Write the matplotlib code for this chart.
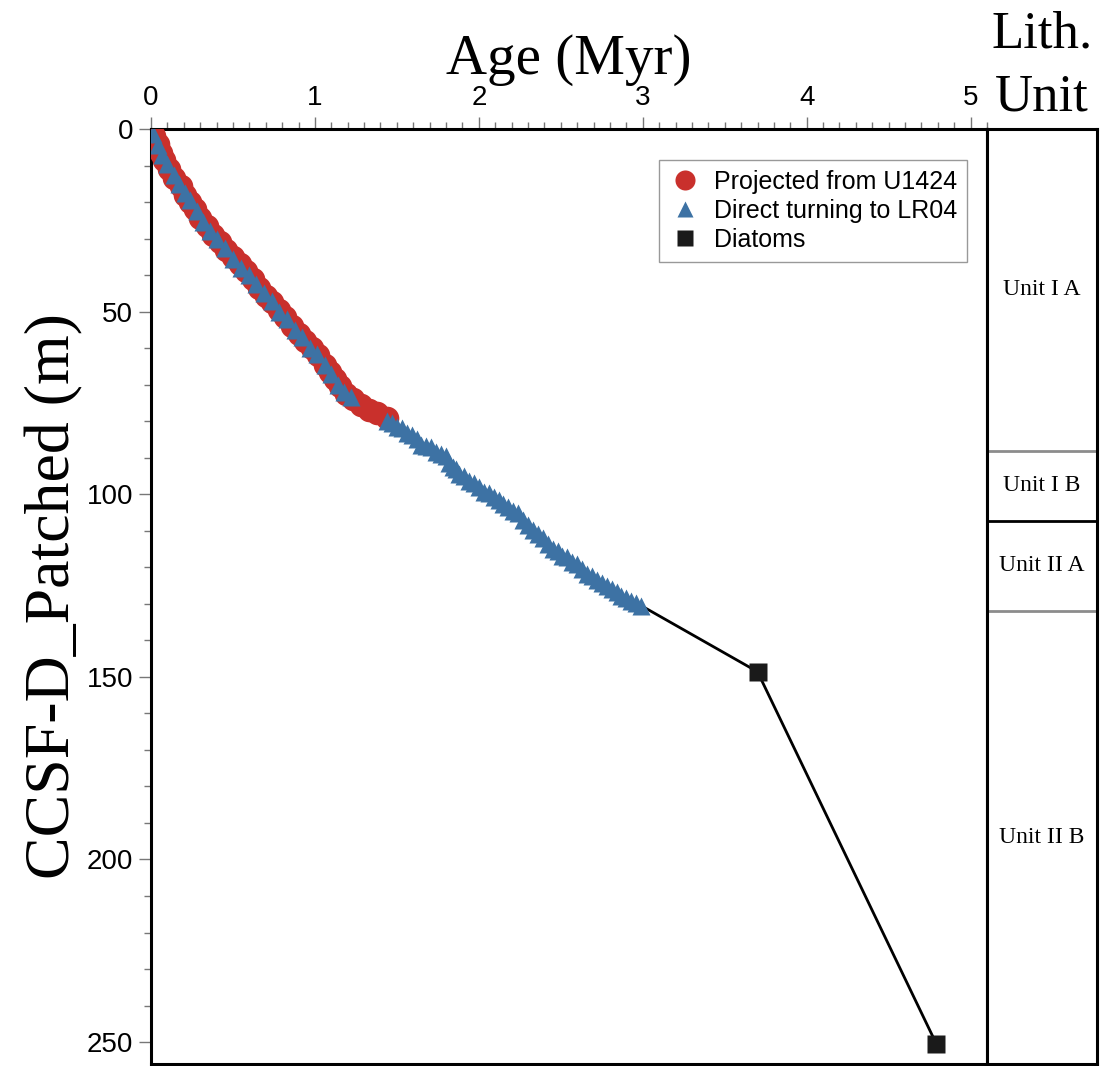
import matplotlib
matplotlib.use("Agg")
import matplotlib.pyplot as plt
from matplotlib.ticker import MultipleLocator

# Projected from U1424 (age Myr, depth m)
red_age = [0.00, 0.02, 0.04, 0.06, 0.08, 0.11, 0.14, 0.18, 0.21, 0.24,
           0.27, 0.30, 0.34, 0.38, 0.42, 0.46, 0.50, 0.54, 0.58, 0.62,
           0.66, 0.70, 0.74, 0.78, 0.82, 0.86, 0.90, 0.94, 0.98, 1.02,
           1.06, 1.09, 1.12, 1.15, 1.19, 1.23, 1.28, 1.33, 1.38, 1.44]
red_depth = [0.5, 2.0, 4.0, 6.5, 8.5, 11.0, 13.5, 15.5, 18.0, 20.0,
             22.0, 24.5, 26.5, 29.0, 31.0, 33.0, 35.0, 37.0, 39.0, 41.0,
             43.5, 45.7, 47.5, 49.5, 51.5, 54.0, 56.0, 58.0, 60.0, 62.0,
             64.5, 66.5, 68.5, 70.5, 72.5, 74.0, 75.5, 76.8, 77.8, 79.0]

# Direct tuning to LR04
blue_age = [0.01, 0.04, 0.07, 0.10, 0.14, 0.17, 0.21, 0.24, 0.28, 0.32,
            0.36, 0.40, 0.45, 0.50, 0.55, 0.60, 0.64, 0.69, 0.74, 0.78,
            0.83, 0.88, 0.92, 0.97, 1.01, 1.06, 1.10, 1.14, 1.18, 1.22,
            1.44, 1.47, 1.50, 1.53, 1.56, 1.59, 1.62, 1.65, 1.68, 1.71,
            1.74, 1.77, 1.80, 1.82, 1.84, 1.86, 1.88, 1.91, 1.94, 1.97,
            2.00, 2.03, 2.06, 2.09, 2.12, 2.15, 2.18, 2.21, 2.24, 2.27,
            2.30, 2.33, 2.36, 2.39, 2.42, 2.45, 2.48, 2.51, 2.54, 2.57,
            2.60, 2.63, 2.66, 2.69, 2.72, 2.75, 2.78, 2.81, 2.84, 2.87,
            2.90, 2.93, 2.96, 2.99]
blue_depth = [1.5, 4.5, 7.0, 9.5, 12.5, 15.0, 17.5, 19.5, 22.5, 25.5,
              28.0, 30.0, 32.5, 35.5, 38.0, 40.0, 42.5, 45.0, 47.0, 50.0,
              52.0, 55.0, 57.0, 60.0, 61.5, 64.5, 67.0, 70.0, 72.0, 73.5,
              80.0, 80.5, 81.5, 82.0, 83.3, 83.8, 85.0, 86.5, 86.8, 87.2,
              88.5, 89.0, 89.6, 91.5, 92.5, 93.2, 94.5, 95.0, 96.3, 97.0,
              98.0, 99.3, 99.6, 100.8, 101.5, 102.8, 103.5, 104.5, 105.2, 107.0,
              108.5, 109.8, 110.8, 112.0, 113.5, 114.9, 115.5, 116.8, 117.3, 118.5,
              119.2, 120.5, 121.8, 122.5, 123.5, 124.3, 125.2, 126.0, 126.8, 127.8,
              128.3, 129.2, 129.8, 130.5]

# Diatoms
diatom_age = [3.70, 4.79]
diatom_depth = [148.6, 250.4]

# lithologic units: (name, top, bottom)
unit_names = ["Unit I A", "Unit I B", "Unit II A", "Unit II B"]
unit_tops = [0.0, 88.1, 107.3, 131.9]
unit_bottoms = [88.1, 107.3, 131.9, 256.0]
unit_line_colors = ["#8c8c8c", "black", "#8c8c8c"]

SANS = "Liberation Sans"
SERIF = "Liberation Serif"
RED = "#c9302c"
BLUE = "#3d72a4"

fig = plt.figure(figsize=(11.01, 10.66), dpi=100)
W, H = 1101, 1066
ax = fig.add_axes([151 / W, 1 - 1064 / H, (987 - 151) / W, (1064 - 129) / H])
lax = fig.add_axes([987 / W, 1 - 1064 / H, (1097 - 987) / W, (1064 - 129) / H])

# black connecting line from the last tuned point through the diatom datums
ax.plot([blue_age[-1]] + diatom_age, [blue_depth[-1]] + diatom_depth,
        color="black", lw=2, zorder=2)
ax.plot(red_age, red_depth, "o", color=RED, ms=17, mec="none",
        label="Projected from U1424", zorder=3)
ax.plot(blue_age, blue_depth, "^", color=BLUE, ms=13, mec="none",
        label="Direct turning to LR04", zorder=4)
ax.plot(diatom_age, diatom_depth, "s", color="#1a1a1a", ms=13.5, mec="none",
        label="Diatoms", zorder=5)

ax.set_xlim(0, 5.1)
ax.set_ylim(256, 0)
ax.xaxis.tick_top()
ax.xaxis.set_label_position("top")
ax.xaxis.set_major_locator(MultipleLocator(1))
ax.xaxis.set_minor_locator(MultipleLocator(0.1))
ax.yaxis.set_major_locator(MultipleLocator(50))
ax.yaxis.set_minor_locator(MultipleLocator(10))
ax.tick_params(which="both", direction="out", color="#777777", width=1)
ax.tick_params(which="major", length=9, labelsize=20, pad=4)
ax.tick_params(which="minor", length=5)
for lbl in ax.get_xticklabels() + ax.get_yticklabels():
    lbl.set_family(SANS)
for s in ax.spines.values():
    s.set_linewidth(2.2)

ax.set_xlabel("Age (Myr)", family=SERIF, fontsize=41, labelpad=8)
ax.set_ylabel("CCSF-D_Patched (m)", family=SERIF, fontsize=46, labelpad=2)

leg = ax.legend(loc="upper right", bbox_to_anchor=(0.976, 0.967),
                prop={"family": SANS, "size": 18}, fancybox=False,
                framealpha=1, edgecolor="#999999", handletextpad=0.5,
                borderpad=0.4, labelspacing=0.2, handlelength=1.3,
                borderaxespad=0, markerscale=0.85)
leg.get_frame().set_linewidth(1)

# lithology column
lax.set_xlim(0, 1)
lax.set_ylim(256, 0)
lax.set_xticks([])
lax.set_yticks([])
for s in lax.spines.values():
    s.set_linewidth(2.2)
for depth, c in zip(unit_tops[1:], unit_line_colors):
    lax.axhline(depth, color=c, lw=2)
for name, top, bot in zip(unit_names, unit_tops, unit_bottoms):
    lax.text(0.5, (top + bot) / 2, name, ha="center", va="center",
             family=SERIF, fontsize=17)

fig.text(1042 / W, 1 - 66 / H, "Lith.\nUnit", ha="center", va="center",
         family=SERIF, fontsize=38, linespacing=1.4)

fig.savefig("out.png", dpi=100)
